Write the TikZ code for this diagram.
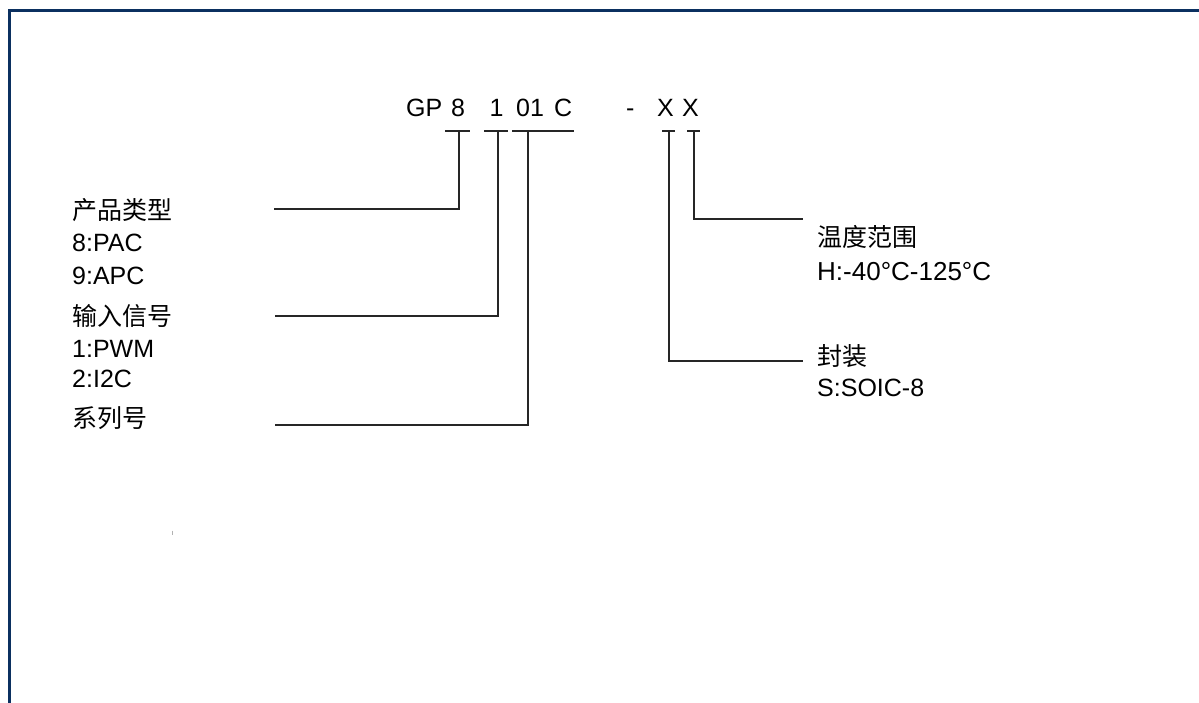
\documentclass[tikz,border=0pt]{standalone}
\usepackage{fontspec}
\setmainfont{Liberation Sans}
\newfontfamily\cjk{Noto Sans CJK SC}
\definecolor{framecol}{HTML}{0B3060}
\definecolor{inkcol}{HTML}{262626}
\begin{document}
\begin{tikzpicture}[x=1pt,y=-1pt,
  lbl/.style={anchor=base west,inner sep=0pt,font=\fontsize{25}{29}\selectfont},
  clbl/.style={anchor=base west,inner sep=0pt,font=\fontsize{25}{29}\selectfont\cjk},
  conn/.style={draw=inkcol,line width=1.6pt},
  framel/.style={draw=framecol,line width=3pt}]
\useasboundingbox (0,0) rectangle (1199,703);
\fill[white] (0,0) rectangle (1199,703);
\draw[framel] (1199,11) -- (9.5,11) -- (9.5,703);

% part number
\node[lbl] (gp)   at (406,117) {GP};
\node[lbl] (c8)   at (451,117) {8};
\node[lbl] (c1)   at (489.5,117) {1};
\node[lbl] (c01)  at (516,117) {01};
\node[lbl] (cc)   at (554,117) {C};
\node[lbl] (dash) at (626,117) {-};
\node[lbl] (xa)   at (657,117) {X};
\node[lbl] (xb)   at (682,117) {X};

% tick bars
\coordinate (b8l) at (445,131); \coordinate (b8r) at (470,131);
\coordinate (b1l) at (484,131); \coordinate (b1r) at (508,131);
\coordinate (b0l) at (512,131); \coordinate (b0r) at (574,131);
\coordinate (bal) at (662,131); \coordinate (bar) at (675,131);
\coordinate (bbl) at (687,131); \coordinate (bbr) at (700,131);
\draw[conn] (b8l) -- (b8r);
\draw[conn] (b1l) -- (b1r);
\draw[conn] (b0l) -- (b0r);
\draw[conn] (bal) -- (bar);
\draw[conn] (bbl) -- (bbr);

% connector ends
\coordinate (t8) at (459,131);  \coordinate (e8) at (274,209);
\coordinate (t1) at (498,131);  \coordinate (e1) at (275,316);
\coordinate (t0) at (528,131);  \coordinate (e0) at (275,425);
\coordinate (ta) at (669,131);  \coordinate (ea) at (803,361);
\coordinate (tb) at (694,131);  \coordinate (eb) at (803,219);
\draw[conn] (t8) |- (e8);
\draw[conn] (t1) |- (e1);
\draw[conn] (t0) |- (e0);
\draw[conn] (ta) |- (ea);
\draw[conn] (tb) |- (eb);

% left labels
\node[clbl] (type)  at (72,219.5) {产品类型};
\node[lbl]  (type1) at (72,252) {8:PAC};
\node[lbl]  (type2) at (72,285) {9:APC};
\node[clbl] (sig)   at (72,325.5) {输入信号};
\node[lbl]  (sig1)  at (72,357) {1:PWM};
\node[lbl]  (sig2)  at (72,387) {2:I2C};
\node[clbl] (ser)   at (72,427.5) {系列号};

% right labels
\node[clbl] (temp)  at (817,246.5) {温度范围};
\node[lbl,font=\fontsize{26}{30}\selectfont]  (temp1) at (817,280) {H:-40°C-125°C};
\node[clbl] (pkg)   at (817,365.5) {封装};
\node[lbl]  (pkg1)  at (817,396) {S:SOIC-8};

% small stray mark
\draw[gray!60,line width=1pt] (172,530.5) -- (172,534.5);
\end{tikzpicture}
\end{document}
